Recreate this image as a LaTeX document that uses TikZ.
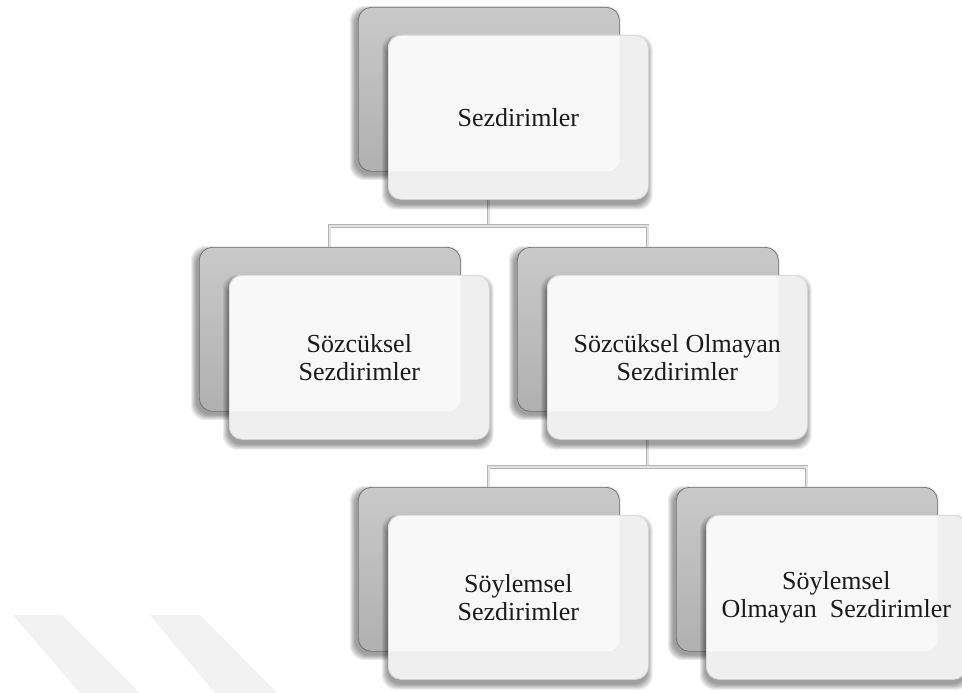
\documentclass[tikz,border=0pt]{standalone}
\usepackage{fontspec}
\setmainfont{Liberation Serif}
\usetikzlibrary{calc}
\definecolor{backtop}{HTML}{C9C9C9}
\definecolor{backbot}{HTML}{B0B0B0}
\definecolor{backline}{HTML}{6A6A6A}
\definecolor{frontfill}{HTML}{EFEFEF}
\definecolor{fronthi}{HTML}{F8F8F8}
\definecolor{frontline}{HTML}{D2D2D2}
\definecolor{connedge}{HTML}{B4B4B4}
\definecolor{conninner}{HTML}{E2E2E2}
\definecolor{wmark}{HTML}{F2F2F2}
\definecolor{txt}{HTML}{1A1A1A}
\pgfdeclarelayer{backl}
\pgfdeclarelayer{midl}
\pgfsetlayers{backl,midl,main}
\tikzset{
  backbox/.style={draw=backline, line width=0.7pt, top color=backtop, bottom color=backbot,
    rounded corners=13pt, minimum width=261pt, minimum height=164pt, inner sep=0pt, anchor=north west},
  frontbox/.style={draw=frontline, line width=0.6pt, rounded corners=13pt,
    minimum width=260pt, minimum height=164pt, inner sep=0pt, anchor=north west,
    align=center, text=txt, font=\fontsize{26}{28}\selectfont},
  frontfillst/.style={fill=frontfill, rounded corners=13pt},
  shadowpiece/.style={fill=black, fill opacity=0.075, rounded corners=14pt},
  conn/.style={draw=connedge, line width=0.9pt, double=conninner, double distance=1.4pt},
}
% soft shadow under a named node: #1 node, #2 dx, #3 dy (down positive)
\newcommand\mysoftshadow[3]{%
  \foreach \e in {5,4,3,2,1,0}{
    \fill[shadowpiece] ($(#1.south west)+(#2-\e,#3+\e)$) rectangle ($(#1.north east)+(#2+\e,#3-\e)$);
  }%
}
% soft shadow for a box of 261x164 whose top-left corner is coordinate #1
\newcommand\mybackshadow[1]{%
  \foreach \e in {5,4,3,2,1,0}{
    \fill[shadowpiece] ($(#1)+(-3-\e,4-\e)$) rectangle ($(#1)+(258+\e,168+\e)$);
  }%
}
\begin{document}
\begin{tikzpicture}[x=1pt,y=-1pt]
\useasboundingbox (0,0) rectangle (962,693);
% front boxes with text
\node[frontbox] (f1) at (388,35) {Sezdirimler};
\node[frontbox] (f2) at (229,275) {Sözcüksel\\Sezdirimler};
\node[frontbox] (f3) at (547,275) {Sözcüksel Olmayan\\Sezdirimler};
\node[frontbox] (f4) at (388,515) {Söylemsel\\Sezdirimler};
\node[frontbox] (f5) at (706,515) {Söylemsel\\Olmayan\hspace{0.25em} Sezdirimler};
\begin{pgfonlayer}{backl}
\fill[white] (0,0) rectangle (962,693);
% watermark stripes
\fill[wmark] (13,615) -- (62,615) -- (140,693) -- (80,693) -- cycle;
\fill[wmark] (150,615) -- (200,615) -- (277,693) -- (215,693) -- cycle;
\coordinate (p1) at (358,7);
\coordinate (p2) at (199,247);
\coordinate (p3) at (517,247);
\coordinate (p4) at (358,487);
\coordinate (p5) at (676,487);
\foreach \i in {1,...,5}{
  \mybackshadow{p\i}
}
\foreach \i in {1,...,5}{
  \node[backbox] (b\i) at (p\i) {};
}
\coordinate (j1) at (b1.south |- 0,226);
\coordinate (j2) at (b3.south |- 0,467);
\draw[conn] (b1.south) -- (j1);
\draw[conn] (j1) -| (b2.north);
\draw[conn] (j1) -| (b3.north);
\draw[conn] (b3.south) -- (j2);
\draw[conn] (j2) -| (b4.north);
\draw[conn] (j2) -| (b5.north);
\end{pgfonlayer}
\begin{pgfonlayer}{midl}
\foreach \i in {1,...,5}{
  \mysoftshadow{f\i}{-1}{5}
  \fill[frontfillst] (f\i.south west) rectangle (f\i.north east);
  \begin{scope}
    \clip[rounded corners=13pt] (b\i.south west) rectangle (b\i.north east);
    \fill[fronthi, rounded corners=13pt] (f\i.south west) rectangle (f\i.north east);
  \end{scope}
}
\end{pgfonlayer}
\end{tikzpicture}
\end{document}
